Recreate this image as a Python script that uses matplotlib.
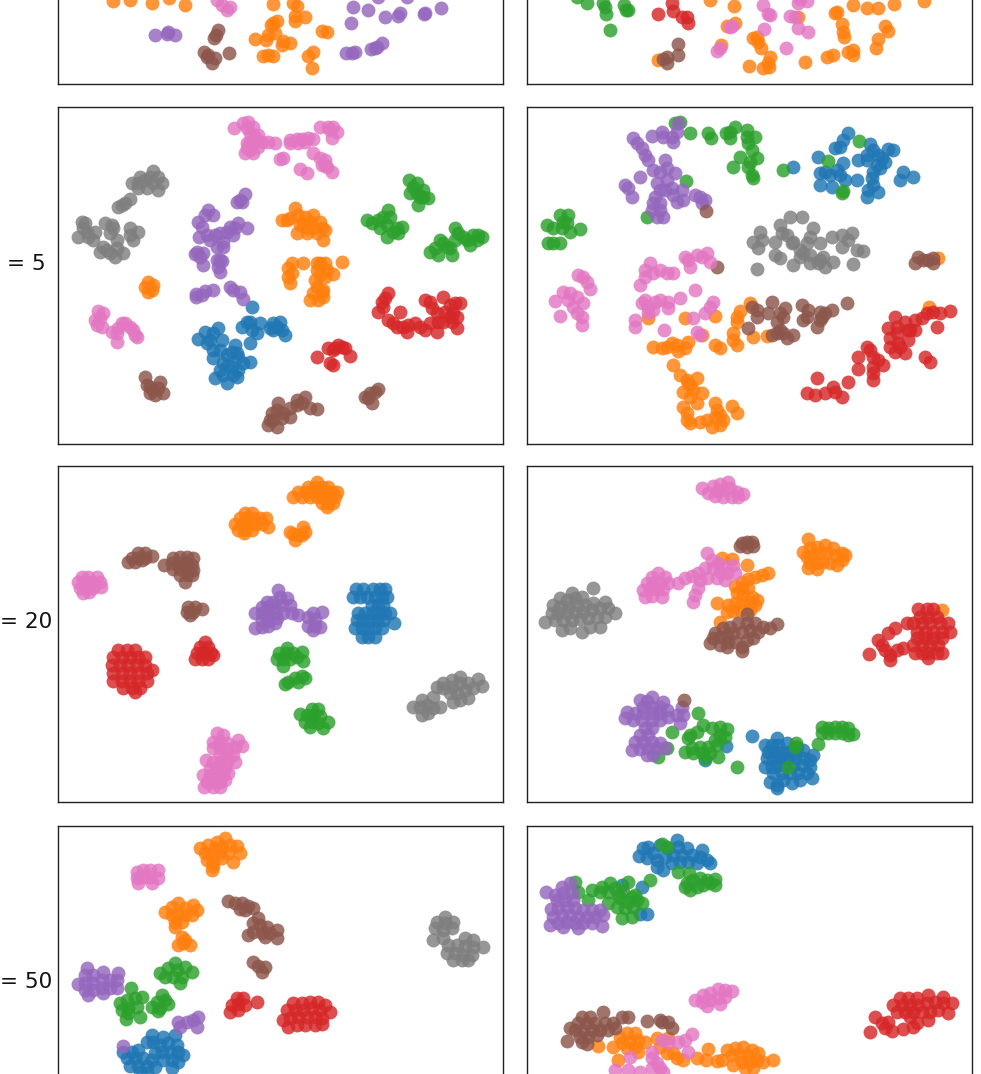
import matplotlib
matplotlib.use("Agg")
import matplotlib.pyplot as plt

W, H = 981, 1074
COLORS = {"blue": "#1f77b4", "orange": "#ff7f0e", "green": "#2ca02c", "red": "#d62728",
          "purple": "#9467bd", "brown": "#8c564b", "pink": "#e377c2", "gray": "#7f7f7f"}
ROW_LABELS = ["perplexity = 2", "perplexity = 5", "perplexity = 20", "perplexity = 50"]

p1l_orange = [(338,3),(390,0),(455,8),(508,-5),(555,16),(820,12),(880,10),(890,18),(885,48),(915,52),(885,62),(820,68),(830,62),(812,75),(965,93),(982,97),(765,118),(797,120),(805,105),(825,100),(848,122),(870,128),(845,135),(790,167),(805,165),(820,168),(925,168),(940,155),(937,203)]
p1l_purple = [(1060,20),(1103,30),(1155,50),(1200,40),(1195,48),(1275,38),(1272,42),(1323,25),(1052,70),(465,104),(505,95),(500,102),(525,104),(1037,160),(1055,160),(1065,157),(1112,146),(1130,140),(1145,130),(1125,143),(1133,-8),(1222,-10)]
p1l_brown = [(655,90),(648,105),(642,115),(612,155),(620,170),(635,190),(645,175),(625,165),(688,158)]
p1l_pink = [(650,0),(665,15),(680,30),(690,22)]

p1r_orange = [(570,0),(643,18),(620,78),(645,68),(710,110),(715,125),(722,143),(700,113),(950,35),(945,40),(1000,14),(1040,24),(1075,25),(1122,13),(1212,3),(965,72),(970,95),(972,112),(1095,78),(1105,93),(1075,118),(1068,145),(985,155),(1000,150),(1000,165),(940,165),(920,172),(855,186),(688,198),(750,172),(745,190),(730,205),(748,200),(604,135),(415,180),(835,50)]
p1r_green = [(170,-8),(202,8),(250,10),(258,43),(255,20),(312,15),(318,30),(325,30),(270,91)]
p1r_red = [(455,10),(460,33),(415,43),(485,50),(500,50),(503,68)]
p1r_brown = [(475,133),(475,165),(440,170),(430,178),(440,190)]
p1r_pink = [(730,15),(745,42),(750,45),(810,48),(825,50),(835,85),(865,95),(732,86),(635,78),(630,80),(600,145),(590,152),(797,143),(835,8),(860,3),(840,-3)]

p2l_blue = [(605,620),(600,665),(575,680),(630,670),(620,700),(600,730),(670,670),(690,665),(660,685),(695,690),(705,705),(465,695),(505,685),(445,718),(480,720),(515,720),(490,750),(490,775),(555,735),(530,765),(565,770),(600,785),(545,800),(565,810),(520,825),(495,835),(530,850),(560,830),(535,795),(490,700),(470,730),(510,750),(560,760),(545,755),(520,790),(550,825),(510,810),(580,790),(605,690),(590,665),(670,690),(680,680)]
p2l_orange = [(695,360),(735,325),(720,355),(750,375),(740,400),(765,350),(790,345),(810,365),(790,385),(825,390),(818,420),(770,385),(715,505),(715,530),(720,550),(760,490),(810,490),(825,490),(875,485),(850,523),(795,540),(810,525),(820,570),(780,600),(805,600),(820,590),(800,560),(295,545),(285,560),(310,555),(295,575),(305,570),(760,370),(780,365),(770,400),(800,400),(815,385),(745,345),(710,360),(725,520),(800,510),(825,530),(790,580),(815,575),(830,510),(800,490),(725,490)]
p2l_green = [(1078,240),(1100,250),(1080,280),(1120,270),(1135,295),(1105,315),(1110,290),(950,360),(985,360),(1015,330),(1010,375),(1040,385),(1055,382),(1010,410),(1045,400),(1000,350),(1140,455),(1165,465),(1170,420),(1190,440),(1205,465),(1215,385),(1215,420),(1240,410),(1260,435),(1270,405),(1295,410),(1280,420),(1090,260),(1100,280),(1120,290),(965,370),(990,385),(1020,350),(1030,395),(1180,430),(1200,445),(1225,400),(1250,420),(1285,405),(1155,445)]
p2l_red = [(1015,580),(995,605),(985,635),(1015,660),(1050,635),(1060,680),(1070,695),(1095,670),(1125,690),(1160,695),(1165,665),(1200,650),(1180,590),(1125,600),(1145,625),(1215,610),(1230,610),(1220,685),(1220,650),(1185,635),(1040,680),(800,772),(835,745),(865,735),(885,745),(900,768),(850,795),(855,745),(1005,595),(1000,620),(1030,670),(1075,675),(1110,680),(1140,670),(1180,665),(1205,665),(1140,605),(1200,615),(1160,640),(1210,640),(850,750),(875,740),(840,790)]
p2l_purple = [(585,282),(570,300),(560,305),(475,330),(490,345),(465,345),(445,365),(565,370),(590,383),(448,410),(470,405),(495,405),(530,395),(550,405),(520,425),(500,440),(520,440),(435,462),(460,460),(458,495),(515,482),(510,515),(500,480),(438,582),(465,572),(490,570),(540,562),(570,575),(578,598),(437,590),(480,420),(510,400),(540,380),(455,380),(440,455),(450,470),(505,500),(510,480),(555,385),(455,585),(550,570),(575,305)]
p2l_brown = [(285,830),(330,845),(290,855),(300,880),(340,878),(315,885),(325,865),(685,910),(665,940),(655,975),(680,980),(695,955),(720,950),(740,900),(765,890),(755,910),(800,928),(720,925),(670,960),(985,868),(960,880),(945,890),(965,910),(300,860),(310,870),(680,930),(700,940),(740,915),(780,925),(660,960),(975,875),(955,895)]
p2l_pink = [(552,85),(580,70),(595,65),(610,80),(600,100),(625,105),(635,125),(600,125),(600,150),(585,160),(610,160),(655,125),(675,130),(720,120),(740,118),(765,125),(775,115),(790,118),(720,130),(810,82),(835,80),(860,97),(845,115),(690,178),(700,175),(790,160),(750,208),(772,218),(825,180),(815,195),(830,200),(845,215),(840,90),(145,632),(160,640),(140,675),(155,680),(200,700),(215,670),(200,725),(185,695),(250,690),(262,710),(240,680),(225,670),(590,85),(615,110),(590,130),(625,140),(590,145),(745,130),(755,118),(825,195),(810,175),(610,130),(850,80),(135,660),(205,685),(255,705),(150,655)]
p2l_gray = [(310,212),(325,230),(270,230),(245,250),(285,240),(290,265),(325,270),(335,250),(240,298),(205,320),(225,310),(95,365),(85,410),(100,385),(135,395),(130,420),(165,370),(185,375),(180,400),(200,420),(240,385),(265,395),(250,420),(150,455),(180,460),(195,470),(220,458),(160,440),(265,250),(310,250),(300,230),(115,410),(110,395),(170,450),(200,445),(240,405),(190,385),(105,370),(265,265),(215,315)]

p2r_blue = [(985,98),(970,120),(945,145),(1050,132),(1105,148),(1120,150),(1015,180),(1075,165),(1095,185),(895,172),(970,190),(900,220),(930,225),(960,225),(900,255),(935,262),(975,240),(1010,240),(1055,235),(1045,270),(1075,275),(1040,290),(1080,205),(1150,215),(1180,230),(1140,240),(818,202),(1040,165),(960,140),(1060,150),(1085,175),(1040,180),(915,215),(950,210),(1060,215),(1060,255),(1070,195)]
p2r_orange = [(690,610),(660,632),(650,665),(640,700),(650,735),(585,735),(600,745),(495,655),(585,648),(385,655),(545,705),(400,742),(440,740),(455,730),(475,752),(505,725),(495,745),(700,710),(740,708),(460,795),(480,825),(530,835),(510,855),(490,875),(545,880),(490,920),(530,910),(585,910),(600,945),(635,918),(650,940),(500,960),(510,968),(560,960),(575,980),(600,975),(590,930),(505,850),(1255,475),(1228,622),(500,840),(520,870),(510,890),(500,940),(540,965),(585,950),(610,960),(650,650),(640,720),(425,745),(470,735)]
p2r_green = [(480,65),(465,68),(510,100),(565,100),(572,115),(618,98),(645,80),(630,115),(680,90),(705,110),(685,130),(660,170),(710,175),(640,200),(690,185),(695,225),(700,235),(790,210),(120,345),(145,345),(80,375),(125,385),(180,388),(150,395),(85,428),(120,430),(498,242),(380,350),(925,182),(1018,122),(970,272),(965,278),(130,365),(140,370),(100,385),(100,430),(630,95),(680,110),(685,200),(695,150)]
p2r_red = [(1290,632),(1240,635),(1260,640),(1205,655),(1250,680),(1125,650),(1155,665),(1105,685),(1185,690),(1110,715),(1165,720),(1125,755),(1155,760),(1215,770),(1230,785),(1040,740),(1015,770),(1060,770),(1090,795),(1015,808),(1060,840),(890,835),(985,845),(940,860),(965,890),(860,880),(885,885),(915,880),(945,875),(1060,800),(1130,680),(1170,690),(1130,700),(1110,740),(1140,740),(1050,750),(1060,820),(1075,780),(1220,640),(1185,660),(1135,730),(1165,690)]
p2r_purple = [(340,115),(365,145),(385,180),(435,180),(395,108),(425,95),(455,110),(475,70),(460,125),(420,215),(465,220),(360,230),(315,255),(325,265),(335,290),(410,250),(455,265),(485,270),(405,290),(420,310),(470,305),(525,285),(555,300),(395,330),(410,350),(430,350),(435,270),(545,310),(490,300),(350,130),(375,165),(400,210),(440,205),(440,240),(420,270),(400,310),(460,285),(420,330),(540,290),(470,95),(430,110)]
p2r_brown = [(558,332),(1195,470),(1210,480),(1185,490),(1225,480),(1240,475),(1240,490),(695,620),(710,650),(755,605),(745,640),(795,625),(770,665),(780,690),(755,705),(800,715),(820,705),(845,615),(850,660),(865,630),(900,635),(890,680),(915,640),(935,630),(980,610),(685,683),(590,500),(710,630),(790,650),(780,640),(770,700),(860,650),(900,660),(905,650),(790,700)]
p2r_pink = [(175,525),(200,545),(210,568),(130,575),(105,603),(190,608),(145,600),(160,620),(120,648),(185,650),(185,675),(170,640),(390,490),(375,510),(360,555),(375,530),(420,510),(460,520),(495,470),(510,500),(530,465),(560,460),(570,485),(525,570),(375,600),(365,610),(405,605),(445,605),(445,625),(480,595),(385,640),(345,660),(345,680),(520,655),(555,640),(580,605),(433,690),(530,695),(540,705),(400,520),(440,520),(505,480),(545,470),(385,620),(420,600),(170,590),(150,580),(400,630),(570,620),(190,530)]
p2r_gray = [(810,352),(845,350),(780,375),(720,395),(700,425),(715,445),(765,425),(800,405),(880,385),(870,410),(935,410),(965,405),(995,400),(840,450),(860,430),(965,440),(1010,450),(1030,452),(765,465),(820,495),(870,490),(910,470),(915,500),(940,485),(1000,493),(710,508),(850,460),(780,475),(820,425),(725,420),(785,400),(815,430),(900,430),(840,470),(870,465),(900,480),(985,420),(895,490)]

p3l_blue = [(1068,388),(1090,388),(1120,388),(1140,388),(1155,388),(1060,412),(1080,412),(1100,412),(1125,412),(1145,412),(1162,412),(1115,435),(1135,435),(1150,435),(1075,460),(1095,460),(1115,460),(1135,460),(1155,460),(1170,460),(1070,480),(1090,480),(1110,480),(1130,480),(1150,480),(1182,490),(1065,505),(1085,505),(1105,505),(1125,505),(1145,505),(1085,530),(1105,530),(1125,530)]
p3l_orange = [(950,65),(925,80),(945,80),(965,80),(985,80),(895,95),(915,95),(935,95),(955,95),(975,95),(995,95),(1012,95),(880,112),(905,112),(930,112),(950,112),(970,112),(990,112),(1005,112),(965,128),(985,128),(1000,128),(980,140),(735,160),(755,160),(720,175),(740,175),(760,175),(780,175),(798,175),(705,192),(725,192),(745,192),(765,192),(785,192),(805,202),(715,210),(735,210),(755,210),(733,220),(910,200),(880,222),(905,225),(885,240),(895,225),(870,215),(915,215)]
p3l_green = [(860,565),(838,578),(858,580),(878,578),(905,575),(830,597),(850,597),(870,597),(890,592),(910,603),(850,618),(905,648),(885,655),(865,665),(855,672),(895,665),(915,655),(935,748),(955,748),(900,762),(920,765),(940,765),(960,768),(915,785),(935,785),(955,790),(985,785),(970,805),(930,802)]
p3l_red = [(355,570),(380,570),(405,570),(340,592),(365,592),(390,592),(415,592),(435,592),(335,615),(360,615),(385,615),(410,615),(435,615),(455,630),(340,640),(365,640),(390,640),(415,640),(440,640),(340,662),(365,662),(390,662),(415,662),(440,662),(370,685),(395,685),(420,685),(405,697),(615,545),(600,560),(625,560),(590,578),(610,578),(632,578),(640,585),(585,597),(605,597),(625,597)]
p3l_purple = [(835,390),(800,425),(820,425),(840,410),(860,415),(785,440),(805,440),(825,440),(845,435),(870,435),(765,460),(785,460),(805,460),(825,460),(850,460),(875,460),(895,465),(785,480),(805,480),(830,475),(765,505),(785,500),(805,497),(825,490),(940,460),(965,455),(925,470),(945,478),(925,498),(945,498),(960,500),(940,510)]
p3l_brown = [(415,280),(435,280),(455,287),(395,295),(415,295),(435,295),(385,305),(405,305),(425,300),(520,295),(540,290),(560,290),(580,295),(493,315),(515,310),(535,310),(555,310),(575,315),(520,328),(540,328),(560,328),(580,330),(540,345),(560,345),(575,345),(555,365),(565,442),(585,440),(605,447),(560,455),(580,455),(570,465)]
p3l_pink = [(245,350),(265,350),(290,350),(235,365),(255,365),(275,365),(300,365),(240,385),(260,385),(280,385),(302,380),(250,400),(268,395),(650,820),(670,825),(640,845),(660,845),(680,850),(715,840),(640,865),(660,865),(685,868),(705,862),(725,858),(660,885),(680,885),(700,885),(618,900),(640,905),(660,905),(680,905),(705,905),(630,925),(650,925),(675,925),(610,945),(630,945),(650,945),(670,945),(685,940),(620,965),(640,965),(660,965),(675,960),(612,980),(640,982),(660,982)]
p3l_gray = [(1380,650),(1355,660),(1330,668),(1310,680),(1330,685),(1355,680),(1380,670),(1405,670),(1435,658),(1445,678),(1420,685),(1395,690),(1370,700),(1350,700),(1405,715),(1380,720),(1360,725),(1265,720),(1240,740),(1260,740),(1280,735),(1300,745),(1320,740),(1265,765),(1285,758),(1300,712)]

p3r_blue = [(695,827),(618,857),(555,900),(770,835),(735,855),(755,855),(775,855),(800,850),(830,860),(745,875),(765,875),(785,875),(805,875),(825,875),(850,870),(880,885),(740,895),(760,895),(780,895),(800,895),(825,895),(850,895),(870,900),(735,920),(755,920),(775,915),(795,915),(820,915),(845,915),(870,920),(760,940),(785,940),(810,940),(835,940),(860,940),(750,965),(770,975),(790,960),(815,970),(840,960),(875,955),(770,985)]
p3r_orange = [(865,238),(850,275),(870,265),(890,260),(915,255),(940,265),(965,280),(975,285),(860,290),(880,285),(900,280),(920,280),(945,285),(965,300),(870,310),(890,310),(910,305),(930,310),(950,315),(865,325),(890,328),(605,295),(635,298),(682,316),(745,340),(725,345),(705,350),(685,358),(665,365),(645,378),(665,385),(685,385),(650,400),(670,405),(695,410),(710,420),(590,430),(625,435),(645,430),(665,425),(690,430),(705,435),(620,455),(640,452),(660,450),(690,450),(600,485),(1265,450)]
p3r_green = [(533,760),(455,817),(550,795),(575,805),(600,800),(620,808),(510,825),(530,815),(600,825),(615,830),(585,840),(505,835),(495,875),(515,865),(540,860),(565,860),(590,855),(520,880),(545,880),(570,880),(555,895),(595,890),(440,865),(413,892),(650,922),(825,860),(828,850),(803,920),(895,853),(905,800),(925,805),(945,800),(965,800),(905,820),(925,820),(945,820),(965,820),(985,805),(985,825),(1000,822)]
p3r_red = [(1195,448),(1220,448),(1240,448),(1200,470),(1225,470),(1250,470),(1160,490),(1180,490),(1205,490),(1230,490),(1260,490),(1285,490),(1190,515),(1215,515),(1240,515),(1265,515),(1290,515),(1190,535),(1215,535),(1240,535),(1265,535),(1180,555),(1205,555),(1230,555),(1255,555),(1185,578),(1205,578),(1225,578),(1250,578),(1265,578),(1225,595),(1125,505),(1105,520),(1075,540),(1085,555),(1095,570),(1110,585),(1110,600),(1130,570),(1150,565),(1048,583)]
p3r_purple = [(395,710),(360,720),(380,722),(430,725),(370,740),(395,740),(420,740),(440,750),(485,740),(320,755),(345,760),(370,760),(395,760),(420,760),(445,770),(470,765),(490,765),(315,775),(340,780),(365,780),(395,780),(420,780),(480,788),(375,805),(395,805),(360,825),(385,825),(345,845),(370,845),(395,845),(420,850),(335,870),(360,868),(385,865),(410,865),(435,865),(380,885),(400,885)]
p3r_brown = [(680,245),(665,250),(695,245),(660,258),(680,260),(700,258),(585,520),(610,505),(630,500),(655,490),(681,462),(680,490),(705,490),(730,500),(750,505),(770,493),(570,548),(580,535),(600,530),(620,525),(640,520),(665,515),(690,510),(715,515),(600,555),(620,560),(645,545),(665,560),(680,540),(700,535),(665,572),(625,545),(492,720)]
p3r_pink = [(625,65),(600,72),(580,78),(545,85),(610,90),(590,92),(630,85),(650,95),(670,103),(565,100),(585,108),(610,112),(635,110),(655,110),(415,340),(395,350),(435,350),(380,370),(400,368),(420,368),(445,368),(370,390),(390,388),(410,388),(430,388),(375,410),(395,408),(425,410),(475,368),(495,355),(515,348),(535,340),(555,325),(560,280),(575,300),(595,310),(615,320),(640,315),(580,325),(600,335),(620,340),(645,340),(540,360),(560,355),(590,355),(615,360),(535,385),(525,405),(520,425)]
p3r_gray = [(220,385),(155,400),(120,415),(140,420),(165,415),(185,410),(100,435),(120,440),(145,440),(170,435),(195,435),(220,430),(255,425),(95,460),(115,460),(140,460),(165,455),(190,455),(215,450),(240,445),(265,445),(285,458),(75,487),(105,480),(130,480),(155,480),(180,478),(205,475),(230,470),(255,470),(125,510),(150,505),(185,515),(210,500),(240,500)]

p4l_blue = [(455,645),(440,665),(460,665),(490,650),(525,645),(480,675),(505,670),(530,675),(485,695),(510,695),(535,695),(550,705),(370,695),(395,695),(415,690),(465,700),(380,715),(405,715),(430,715),(455,720),(490,720),(515,720),(535,725),(390,738),(415,738),(440,738),(465,740),(515,745),(420,755),(440,760)]
p4l_orange = [(675,55),(650,65),(625,75),(600,85),(645,85),(665,80),(690,75),(710,78),(615,100),(635,105),(660,100),(685,100),(720,100),(620,120),(640,125),(665,115),(700,125),(635,150),(640,138),(495,275),(515,262),(535,250),(555,265),(580,255),(590,270),(515,285),(535,285),(555,285),(575,285),(525,305),(545,305),(525,320),(545,352),(535,375),(550,370),(570,375),(555,360)]
p4l_green = [(525,430),(505,445),(480,460),(530,450),(555,440),(575,455),(495,472),(520,470),(545,470),(540,488),(393,503),(360,550),(380,540),(405,535),(425,530),(365,570),(385,565),(410,560),(378,598),(420,590),(385,580),(485,525),(470,545),(495,540),(455,560),(480,565),(505,552),(475,572)]
p4l_red = [(710,535),(730,535),(695,555),(715,552),(735,555),(770,547),(690,575),(715,570),(880,550),(905,548),(930,545),(955,545),(975,555),(860,570),(885,570),(910,570),(935,565),(960,570),(990,575),(850,600),(870,595),(895,590),(920,590),(945,590),(965,595),(865,620),(890,615),(915,615),(945,615),(965,612)]
p4l_purple = [(262,445),(255,465),(280,465),(310,455),(355,460),(235,492),(255,490),(280,488),(305,480),(330,480),(350,480),(255,510),(280,510),(305,505),(330,505),(350,505),(265,525),(310,520),(535,605),(540,620),(580,600),(560,605),(595,590),(590,622),(370,677)]
p4l_brown = [(685,242),(705,250),(725,250),(745,258),(760,265),(720,268),(735,270),(775,295),(760,310),(780,315),(800,320),(745,345),(760,335),(785,338),(810,340),(830,330),(830,355),(795,350),(760,425),(775,438),(795,440),(785,455)]
p4l_pink = [(410,155),(430,150),(450,150),(475,150),(410,175),(430,170),(450,170),(475,175),(415,190),(455,190)]
p4l_gray = [(1335,290),(1310,305),(1335,310),(1360,305),(1305,325),(1330,330),(1355,325),(1300,360),(1330,355),(1395,355),(1420,360),(1345,375),(1370,375),(1395,378),(1420,380),(1450,380),(1340,400),(1365,400),(1390,405),(1415,405),(1360,420),(1385,420),(1405,420)]

p4r_blue = [(370,85),(358,108),(385,80),(400,100),(420,75),(445,85),(470,60),(475,80),(500,85),(545,90),(380,115),(410,120),(435,110),(460,105),(485,105),(515,105),(540,110),(560,120),(570,130),(430,150),(455,130),(480,125),(505,125),(530,128),(410,140),(365,200),(360,282),(380,282),(305,195)]
p4r_orange = [(235,677),(280,680),(300,650),(320,640),(345,640),(305,670),(330,665),(355,660),(375,665),(410,655),(445,655),(320,685),(345,680),(420,680),(440,700),(460,700),(470,715),(490,720),(295,720),(353,697),(565,688),(530,715),(557,720),(590,722),(605,720),(620,690),(645,685),(670,680),(695,690),(715,700),(635,705),(660,705),(685,705),(710,720),(640,735),(665,725),(690,725),(730,725),(760,720),(700,745),(675,745)]
p4r_green = [(425,72),(440,82),(475,155),(508,160),(390,180),(325,185),(270,190),(245,200),(215,210),(285,205),(205,240),(265,248),(310,215),(335,230),(345,225),(300,235),(325,245),(350,240),(290,260),(315,265),(340,260),(365,250),(305,295),(335,290),(165,185),(175,215),(240,215),(265,215),(295,225),(500,190),(520,180),(540,175),(560,180),(585,178),(585,195),(510,210),(530,200),(550,195),(570,190),(495,200)]
p4r_red = [(1225,525),(1140,535),(1165,535),(1190,535),(1270,530),(1295,550),(1120,555),(1145,555),(1170,555),(1195,555),(1220,550),(1245,545),(1270,550),(1285,578),(1130,575),(1155,575),(1180,575),(1205,575),(1230,575),(1255,570),(1225,600),(1170,590),(1065,592),(1085,610),(1105,605),(1115,632),(1095,625),(1050,635),(1150,628),(1180,620),(1190,610)]
p4r_purple = [(150,190),(125,200),(78,217),(105,225),(130,220),(155,215),(110,240),(135,240),(160,240),(92,268),(115,265),(140,260),(165,265),(190,270),(215,270),(240,270),(100,290),(125,285),(150,285),(175,290),(200,290),(225,290),(90,315),(115,310),(140,305),(165,310),(190,310),(215,310),(245,318),(175,325),(130,320),(250,285)]
p4r_brown = [(250,575),(185,590),(210,590),(305,592),(325,592),(380,603),(425,605),(445,605),(455,625),(420,600),(150,625),(175,610),(200,610),(225,610),(255,610),(280,610),(285,625),(165,630),(190,630),(215,630),(240,630),(265,630),(140,663),(180,650),(205,650),(230,645),(200,672),(185,665)]
p4r_pink = [(635,512),(615,510),(595,508),(570,520),(550,525),(525,540),(545,545),(570,540),(595,535),(615,530),(560,558),(600,552),(515,642),(495,660),(475,665),(445,665),(425,660),(505,695),(395,695),(395,715),(410,730),(420,745),(330,710),(285,750),(325,750),(360,755),(395,745),(430,755)]

panels = [
    ((58, -253, 445, 337), (174, 1509), (252, -759), dict(orange=p1l_orange, purple=p1l_purple, brown=p1l_brown, pink=p1l_pink)),
    ((527, -253, 445, 337), (21, 1356), (252, -759), dict(orange=p1r_orange, green=p1r_green, red=p1r_red, brown=p1r_brown, pink=p1r_pink)),
    ((58, 107, 445, 337), (24, 1359), (1032, 21), dict(blue=p2l_blue, orange=p2l_orange, green=p2l_green, red=p2l_red, purple=p2l_purple, brown=p2l_brown, pink=p2l_pink, gray=p2l_gray)),
    ((527, 107, 445, 337), (21, 1356), (1032, 21), dict(blue=p2r_blue, orange=p2r_orange, green=p2r_green, red=p2r_red, purple=p2r_purple, brown=p2r_brown, pink=p2r_pink, gray=p2r_gray)),
    ((58, 466, 445, 336), (174, 1509), (1026, 18), dict(blue=p3l_blue, orange=p3l_orange, green=p3l_green, red=p3l_red, purple=p3l_purple, brown=p3l_brown, pink=p3l_pink, gray=p3l_gray)),
    ((527, 466, 445, 336), (21, 1356), (1026, 18), dict(blue=p3r_blue, orange=p3r_orange, green=p3r_green, red=p3r_red, purple=p3r_purple, brown=p3r_brown, pink=p3r_pink, gray=p3r_gray)),
    ((58, 826, 445, 336), (174, 1509), (1026, 18), dict(blue=p4l_blue, orange=p4l_orange, green=p4l_green, red=p4l_red, purple=p4l_purple, brown=p4l_brown, pink=p4l_pink, gray=p4l_gray)),
    ((527, 826, 445, 336), (21, 1356), (1026, 18), dict(blue=p4r_blue, orange=p4r_orange, green=p4r_green, red=p4r_red, purple=p4r_purple, brown=p4r_brown, pink=p4r_pink)),
]

fig = plt.figure(figsize=(W / 100, H / 100), dpi=100)
for i, (box, xlim, ylim, series) in enumerate(panels):
    x0, y0, w, h = box
    ax = fig.add_axes([x0 / W, 1 - (y0 + h) / H, w / W, h / H])
    for color in COLORS:
        if color in series:
            xs = [p[0] for p in series[color]]
            ys = [p[1] for p in series[color]]
            ax.scatter(xs, ys, s=100, c=COLORS[color], alpha=0.82, linewidths=0)
    ax.set_xlim(*xlim)
    ax.set_ylim(*ylim)
    ax.set_xticks([])
    ax.set_yticks([])
    for spine in ax.spines.values():
        spine.set_linewidth(1.0)
        spine.set_color("#222222")
    if i % 2 == 0:
        ax.set_ylabel(ROW_LABELS[i // 2], rotation=0, ha="center", va="bottom", fontsize=15.5, color="#111111")
        ax.yaxis.set_label_coords(-0.2, 0.505)

fig.savefig("out.png", dpi=100)
